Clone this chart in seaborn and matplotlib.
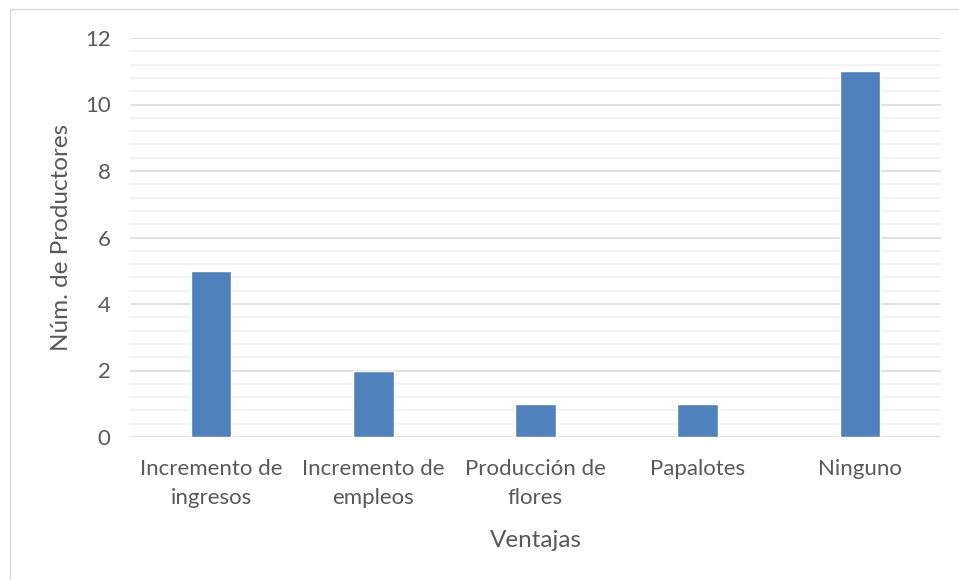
import matplotlib
matplotlib.use("Agg")
import matplotlib.pyplot as plt
import seaborn as sns
import pandas as pd
from matplotlib.lines import Line2D
from matplotlib.ticker import MultipleLocator

categories = ["Incremento de\ningresos", "Incremento de\nempleos", "Producción de\nflores", "Papalotes", "Ninguno"]
values = [5, 2, 1, 1, 11]
y_label = "Núm. de Productores"
x_label = "Ventajas"

df = pd.DataFrame({"cat": categories, "val": values})

sns.set_theme(style="white")
plt.rcParams['font.family'] = ['Lato', 'DejaVu Sans']

W, H = 959, 580
fig = plt.figure(figsize=(W / 100, H / 100), dpi=100)
ax = fig.add_axes([130 / W, 1 - 437 / H, (941 - 130) / W, (437 - 38) / H])

sns.barplot(data=df, x="cat", y="val", color="#4F81BD", width=0.25, saturation=1, ax=ax, zorder=3)

ax.set_ylim(0, 12)
ax.set_xlim(-0.5, len(categories) - 0.5)
ax.yaxis.set_major_locator(MultipleLocator(2))
ax.yaxis.set_minor_locator(MultipleLocator(0.4))
ax.grid(axis="y", which="major", color="#D9D9D9", linewidth=1.1, zorder=0)
ax.grid(axis="y", which="minor", color="#F0F0F0", linewidth=1.1, zorder=0)
ax.grid(axis="x", visible=False)
for s in ax.spines.values():
    s.set_visible(False)
ax.tick_params(axis="both", which="both", length=0)
ax.tick_params(axis="y", pad=14, labelsize=16, labelcolor="#595959")
ax.tick_params(axis="x", pad=16, labelsize=16, labelcolor="#595959")
for t in ax.get_xticklabels():
    t.set_linespacing(1.55)

ax.set_ylabel(y_label, fontsize=17.5, color="#595959", labelpad=9)
ax.set_xlabel(x_label, fontsize=17.5, color="#595959", labelpad=16)

# outer chart frame
fig.add_artist(Line2D([10 / W, 10 / W], [0, 1 - 9 / H], transform=fig.transFigure, color="#D9D9D9", linewidth=1))
fig.add_artist(Line2D([10 / W, 1], [1 - 9 / H, 1 - 9 / H], transform=fig.transFigure, color="#D9D9D9", linewidth=1))

fig.savefig("out.png", dpi=100)
